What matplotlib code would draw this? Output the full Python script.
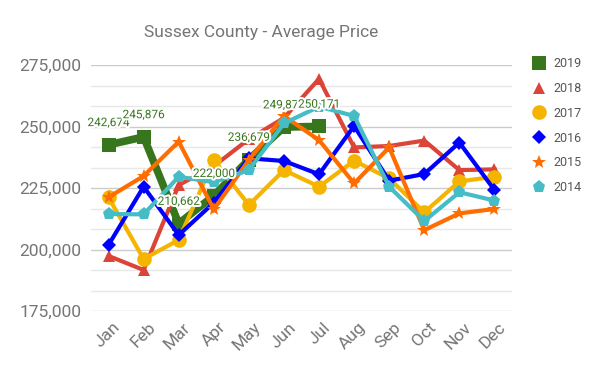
import numpy as np
import matplotlib
matplotlib.use("Agg")
import matplotlib.pyplot as plt
import matplotlib.patheffects as pe
import matplotlib.transforms as mtransforms
from matplotlib.lines import Line2D
from matplotlib.ticker import FuncFormatter, MultipleLocator

plt.rcParams['font.family'] = ['Roboto', 'DejaVu Sans']

months = ["Jan", "Feb", "Mar", "Apr", "May", "Jun", "Jul", "Aug", "Sep", "Oct", "Nov", "Dec"]

p2019 = [242674, 245876, 210662, 222000, 236679, 249872, 250171]
p2018 = [197500, 191800, 226300, 234000, 245000, 253600, 269500, 241600, 242200, 244400, 232400, 232700]
p2017 = [221300, 196250, 204000, 236500, 218200, 232400, 225650, 236200, 229000, 215200, 227800, 229700]
p2016 = [202000, 225650, 206000, 219150, 237200, 236100, 230700, 250300, 228100, 230800, 243600, 224300]
p2015 = [221350, 230000, 243950, 216450, 236500, 254400, 244600, 227000, 241600, 208000, 214800, 216600]
p2014 = [214550, 214400, 229700, 227500, 232400, 251400, 258200, 254400, 225650, 211700, 223400, 220000]

series = [
    ("2019", p2019, "#38761d", "s", 5.5, 10),
    ("2018", p2018, "#db4437", "^", 3, 8.5),
    ("2017", p2017, "#f4b400", "o", 3, 10.5),
    ("2016", p2016, "#0000ff", "D", 3, 7.5),
    ("2015", p2015, "#ff6d00", "*", 3, 10.5),
    ("2014", p2014, "#46bdc6", "p", 3, 9.5),
]

fig = plt.figure(figsize=(6, 3.71), dpi=100)
ax = fig.add_axes([91/600, 1-311.3/371, 421/600, (311.3-65.3)/371])

x = np.arange(len(months))
for i, (name, vals, col, mk, lw, ms) in enumerate(series):
    ax.plot(x[:len(vals)], vals, color=col, lw=lw, marker=mk, ms=ms,
            markeredgewidth=0, zorder=3+i, solid_joinstyle='miter')

# data labels on 2019
for xi, v in zip(x, p2019):
    ax.annotate(f"{v:,}", (xi, v), xytext=(0, 16), textcoords='offset points',
                ha='center', va='center', fontsize=8.5, color="#38761d", zorder=20,
                path_effects=[pe.withStroke(linewidth=3, foreground='white')])

ax.set_xlim(-0.5, 11.5)
ax.set_ylim(175000, 275000)
ax.yaxis.set_major_locator(MultipleLocator(25000))
ax.yaxis.set_minor_locator(MultipleLocator(25000/3))
ax.yaxis.set_major_formatter(FuncFormatter(lambda v, p: f"{int(v):,}"))
ax.grid(axis='y', which='major', color='#cccccc', lw=1, zorder=0)
ax.grid(axis='y', which='minor', color='#e8e8e8', lw=1, zorder=0)
ax.set_axisbelow(True)
for s in ax.spines.values():
    s.set_visible(False)
ax.tick_params(axis='y', which='both', length=0, pad=7, labelsize=12.5, labelcolor='#757575')
ax.set_xticks(x)
ax.set_xticklabels(months, rotation=45, ha='right', rotation_mode='anchor')
ax.tick_params(axis='x', length=0, pad=6, labelsize=12.5, labelcolor='#757575')
shift = mtransforms.ScaledTranslation(4/100, 0, fig.dpi_scale_trans)
for lab in ax.get_xticklabels():
    lab.set_transform(lab.get_transform() + shift)

fig.text(261/600, 1-32/371, "Sussex County - Average Price", ha='center', va='center',
         fontsize=12.5, color='#757575')

handles = [Line2D([], [], color=c, marker=m, ls='none', ms=ms, markeredgewidth=0)
           for (n, v, c, m, lw, ms) in series]
ax.legend(handles, [s[0] for s in series], loc='upper left',
          bbox_to_anchor=(528/600, 1-52/371), bbox_transform=fig.transFigure,
          frameon=False, handlelength=1.0, handletextpad=0.6, labelspacing=0.95,
          fontsize=9, labelcolor='#555555', borderaxespad=0)

fig.savefig("out.png", dpi=100)
